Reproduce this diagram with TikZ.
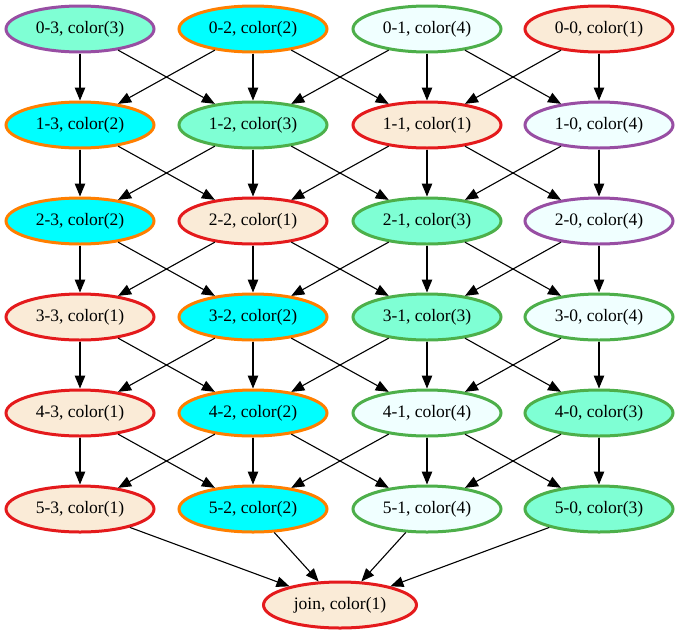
\documentclass[tikz,border=0pt]{standalone}
\usepackage{fontspec}
\setmainfont{Liberation Serif}
\usetikzlibrary{shapes.geometric,arrows.meta}

% fills
\definecolor{fAntique}{HTML}{FAEBD7}
\definecolor{fCyan}{HTML}{00FFFF}
\definecolor{fAqua}{HTML}{7FFFD4}
\definecolor{fAzure}{HTML}{F0FFFF}
% borders
\definecolor{bRed}{HTML}{E41A1C}
\definecolor{bOrange}{HTML}{FF7F00}
\definecolor{bGreen}{HTML}{4DAF4A}
\definecolor{bPurple}{HTML}{984EA3}

\tikzset{
  vert/.style={ellipse, draw, line width=3pt, minimum width=148pt,
    minimum height=46pt, inner sep=0pt,
    font=\fontsize{17.5}{20}\selectfont},
  c1/.style={fill=fAntique},
  c2/.style={fill=fCyan},
  c3/.style={fill=fAqua},
  c4/.style={fill=fAzure},
  red/.style={draw=bRed},
  orange/.style={draw=bOrange},
  green/.style={draw=bGreen},
  purple/.style={draw=bPurple},
  edge/.style={draw=black, line width=1.1pt,
    -{Triangle[length=13pt,width=10.5pt]}},
}

\begin{document}
\begin{tikzpicture}[x=1pt, y=-1pt]
\useasboundingbox (0,0) rectangle (680,635);

% row 0
\node[vert,c3,purple] (n03) at (80,29)  {0-3, color(3)};
\node[vert,c2,orange] (n02) at (253,29) {0-2, color(2)};
\node[vert,c4,green]  (n01) at (427,29) {0-1, color(4)};
\node[vert,c1,red]    (n00) at (599,29) {0-0, color(1)};
% row 1
\node[vert,c2,orange] (n13) at (80,125)  {1-3, color(2)};
\node[vert,c3,green]  (n12) at (253,125) {1-2, color(3)};
\node[vert,c1,red]    (n11) at (427,125) {1-1, color(1)};
\node[vert,c4,purple] (n10) at (599,125) {1-0, color(4)};
% row 2
\node[vert,c2,orange] (n23) at (80,221)  {2-3, color(2)};
\node[vert,c1,red]    (n22) at (253,221) {2-2, color(1)};
\node[vert,c3,green]  (n21) at (427,221) {2-1, color(3)};
\node[vert,c4,purple] (n20) at (599,221) {2-0, color(4)};
% row 3
\node[vert,c1,red]    (n33) at (80,317)  {3-3, color(1)};
\node[vert,c2,orange] (n32) at (253,317) {3-2, color(2)};
\node[vert,c3,green]  (n31) at (427,317) {3-1, color(3)};
\node[vert,c4,green]  (n30) at (599,317) {3-0, color(4)};
% row 4
\node[vert,c1,red]    (n43) at (80,413)  {4-3, color(1)};
\node[vert,c2,orange] (n42) at (253,413) {4-2, color(2)};
\node[vert,c4,green]  (n41) at (427,413) {4-1, color(4)};
\node[vert,c3,green]  (n40) at (599,413) {4-0, color(3)};
% row 5
\node[vert,c1,red]    (n53) at (80,509)  {5-3, color(1)};
\node[vert,c2,orange] (n52) at (253,509) {5-2, color(2)};
\node[vert,c4,green]  (n51) at (427,509) {5-1, color(4)};
\node[vert,c3,green]  (n50) at (599,509) {5-0, color(3)};
% sink
\node[vert,c1,red,minimum width=153pt] (join) at (340,605) {join, color(1)};

% each vertex feeds the same column and both neighbouring columns below
\foreach \r in {0,...,4} {
  \pgfmathtruncatemacro{\s}{\r+1}
  \foreach \a/\b in {0/0,0/1,1/0,1/1,1/2,2/1,2/2,2/3,3/2,3/3} {
    \draw[edge] (n\r\a) -- (n\s\b);
  }
}
\foreach \c in {0,...,3} {
  \draw[edge] (n5\c) -- (join);
}
\end{tikzpicture}
\end{document}
